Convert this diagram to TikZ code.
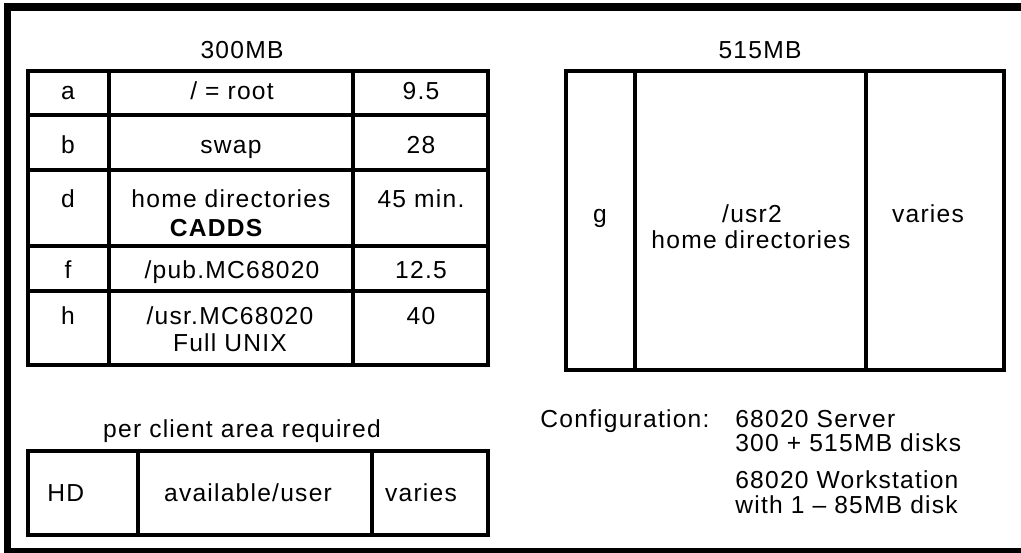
\documentclass[tikz,border=0pt]{standalone}
\usepackage{fontspec}
\setmainfont{Liberation Sans}[LetterSpace=5]
\usetikzlibrary{positioning}

\begin{document}
\begin{tikzpicture}[
  x=0.02cm, y=-0.02cm,
  frame/.style={line width=4pt},
  grid/.style={line width=2.3pt},
  txt/.style={font=\fontsize{14}{16}\selectfont, inner sep=0pt, anchor=base},
  txtl/.style={txt, anchor=base west},
  txtb/.style={txt, font=\fontsize{14}{16}\selectfont\bfseries},
]
  \useasboundingbox (0,0) rectangle (1021,552);
  \clip (0,0) rectangle (1021,552);
  \draw[frame] (7.5,7) rectangle (1040,551.5);

  % 300MB disk
  \node[txt] (t300) at (242,58) {300MB};
  \draw[grid] (28,71) rectangle (488,365);
  \draw[grid] (109,71) -- (109,365);
  \draw[grid] (353,71) -- (353,365);
  \foreach \y in {115,170,246,291}
    \draw[grid] (28,\y) -- (488,\y);

  \node[txt] (ca) at (68,99) {a};
  \node[txt] (croot) at (232,99) {/ = root};
  \node[txt] (c95) at (421,99) {9.5};
  \node[txt] (cb) at (68,153) {b};
  \node[txt] (cswap) at (231,153) {swap};
  \node[txt] (c28) at (421,153) {28};
  \node[txt] (cd) at (68,207) {d};
  \node[txt] (chome) at (231,207) {home directories};
  \node[txtb] (ccadds) at (216,236) {CADDS};
  \node[txt] (c45) at (421,207) {45 min.};
  \node[txt] (cf) at (68,278) {f};
  \node[txt] (cpub) at (232,278) {/pub.MC68020};
  \node[txt] (c125) at (421,278) {12.5};
  \node[txt] (ch) at (68,324) {h};
  \node[txt] (cusr) at (230,324) {/usr.MC68020};
  \node[txt] (cunix) at (230,351) {Full UNIX};
  \node[txt] (c40) at (421,324) {40};

  % per client area
  \node[txt] (tclient) at (242,437) {per client area required};
  \draw[grid] (28,451) rectangle (488,535);
  \draw[grid] (138,451) -- (138,535);
  \draw[grid] (372,451) -- (372,535);
  \node[txtl] (chd) at (47,501) {HD};
  \node[txt] (cavail) at (248,501) {available/user};
  \node[txt] (cvar) at (421,501) {varies};

  % 515MB disk
  \node[txt] (t515) at (760,58) {515MB};
  \draw[grid] (566,71) rectangle (1004,370);
  \draw[grid] (635,71) -- (635,370);
  \draw[grid] (866,71) -- (866,370);
  \node[txt] (cg) at (600,222) {g};
  \node[txt] (cusrb) at (752,222) {/usr2};
  \node[txt] (chomeb) at (751,248) {home directories};
  \node[txt] (cvarb) at (928,222) {varies};

  % configuration
  \node[txtl] (conf) at (540,427) {Configuration:};
  \node[txtl] (srv) at (735,427) {68020 Server};
  \node[txtl] (srvd) at (735,451) {300 + 515MB disks};
  \node[txtl] (ws) at (735,488) {68020 Workstation};
  \node[txtl] (wsd) at (735,513) {with 1 -- 85MB disk};
\end{tikzpicture}
\end{document}
